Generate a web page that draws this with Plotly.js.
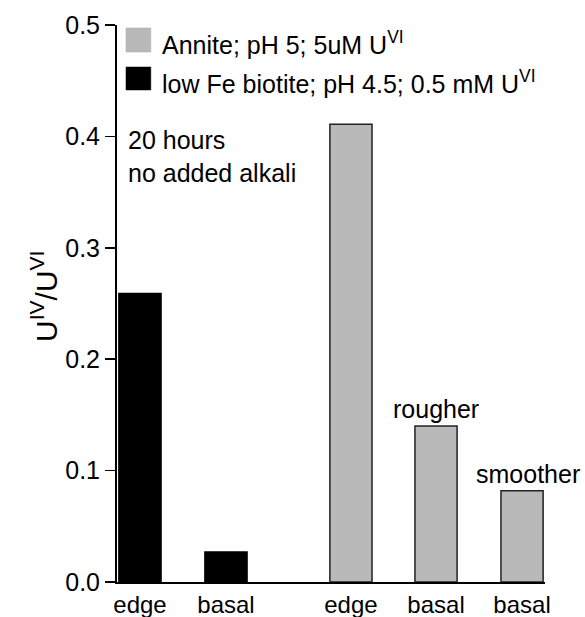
<!DOCTYPE html>
<html>
<head>
<meta charset="utf-8">
<script src="https://cdn.plot.ly/plotly-3.0.1.min.js"></script>
<style>html,body{margin:0;padding:0;background:#fff;}#chart{width:585px;height:617px;}</style>
</head>
<body>
<div id="chart"></div>
<script>
// ---- data ----
var seriesNames = ["Annite; pH 5; 5uM U<sup>VI</sup>", "low Fe biotite; pH 4.5; 0.5 mM U<sup>VI</sup>"];
var lowFeLabels = ["edge", "basal"];
var lowFeValues = [0.259, 0.027];
var anniteLabels = ["edge", "basal", "basal"];
var anniteValues = [0.411, 0.140, 0.082];
var barNotes = ["", "rougher", "smoother"];
var noteLines = ["20 hours", "no added alkali"];
var yTitle = "U<sup>IV</sup>/U<sup>VI</sup>";
var yTicks = [0.0, 0.1, 0.2, 0.3, 0.4, 0.5];
var yTickLabels = ["0.0", "0.1", "0.2", "0.3", "0.4", "0.5"];

// ---- layout positions (not data) ----
var lowFePos = [0, 1];
var annitePos = [2.453, 3.442, 4.442];
var noteShift = [0, 0, 6];
var FONT = "Liberation Sans, Arial, sans-serif";
var grayFill = "#b9b9b9";

var traces = [
  {type: "bar", x: lowFePos, y: lowFeValues, width: 0.49, name: seriesNames[1],
   marker: {color: "#000", line: {color: "#000", width: 1.5}}, showlegend: false},
  {type: "bar", x: annitePos, y: anniteValues, width: 0.49, name: seriesNames[0],
   marker: {color: grayFill, line: {color: "#222", width: 1.5}}, showlegend: false}
];

var annotations = [
  {xref: "paper", yref: "paper", x: -0.218, y: 0.513, text: yTitle,
   textangle: -90, showarrow: false, font: {family: FONT, size: 30, color: "#000"}},
  {xref: "paper", yref: "y", x: 0.022, y: 0.397, xanchor: "left", yanchor: "middle",
   text: noteLines[0], showarrow: false, font: {family: FONT, size: 25, color: "#000"}},
  {xref: "paper", yref: "y", x: 0.022, y: 0.367, xanchor: "left", yanchor: "middle",
   text: noteLines[1], showarrow: false, font: {family: FONT, size: 25, color: "#000"}},
  {xref: "paper", yref: "paper", x: 0.1, y: 0.968, xanchor: "left", yanchor: "middle",
   text: seriesNames[0], showarrow: false, font: {family: FONT, size: 25, color: "#000"}},
  {xref: "paper", yref: "paper", x: 0.1, y: 0.898, xanchor: "left", yanchor: "middle",
   text: seriesNames[1], showarrow: false, font: {family: FONT, size: 25, color: "#000"}}
];
for (var i = 0; i < barNotes.length; i++) {
  if (!barNotes[i]) continue;
  annotations.push({xref: "x", yref: "y", x: annitePos[i], y: anniteValues[i],
    xanchor: "center", yanchor: "bottom", yshift: 1, xshift: noteShift[i],
    text: barNotes[i], showarrow: false, font: {family: FONT, size: 25, color: "#000"}});
}

var shapes = [
  {type: "rect", xref: "paper", yref: "paper", x0: 0.021, x1: 0.079, y0: 0.9515, y1: 0.9946,
   fillcolor: grayFill, line: {color: "#aaa", width: 0.5}},
  {type: "rect", xref: "paper", yref: "paper", x0: 0.021, x1: 0.079, y0: 0.8833, y1: 0.9246,
   fillcolor: "#000", line: {color: "#000", width: 0.5}}
];

var layout = {
  width: 585, height: 617,
  margin: {l: 117, r: 40, t: 25, b: 35},
  paper_bgcolor: "#fff", plot_bgcolor: "#fff",
  showlegend: false,
  font: {family: FONT, color: "#000"},
  xaxis: {range: [-0.267, 4.709], tickvals: lowFePos.concat(annitePos),
          ticktext: lowFeLabels.concat(anniteLabels), ticks: "", showgrid: false,
          zeroline: false, showline: true, linecolor: "#000", linewidth: 2,
          tickfont: {family: FONT, size: 24, color: "#000"}, fixedrange: true},
  yaxis: {range: [0, 0.5], tickvals: yTicks, ticktext: yTickLabels, ticks: "outside",
          ticklen: 10, tickwidth: 1.5, tickcolor: "#000", showgrid: false, zeroline: false,
          showline: true, linecolor: "#000", linewidth: 2,
          tickfont: {family: FONT, size: 25, color: "#000"}, fixedrange: true},
  annotations: annotations,
  shapes: shapes,
  bargap: 0
};

Plotly.newPlot("chart", traces, layout, {staticPlot: true, displayModeBar: false});
</script>
</body>
</html>
